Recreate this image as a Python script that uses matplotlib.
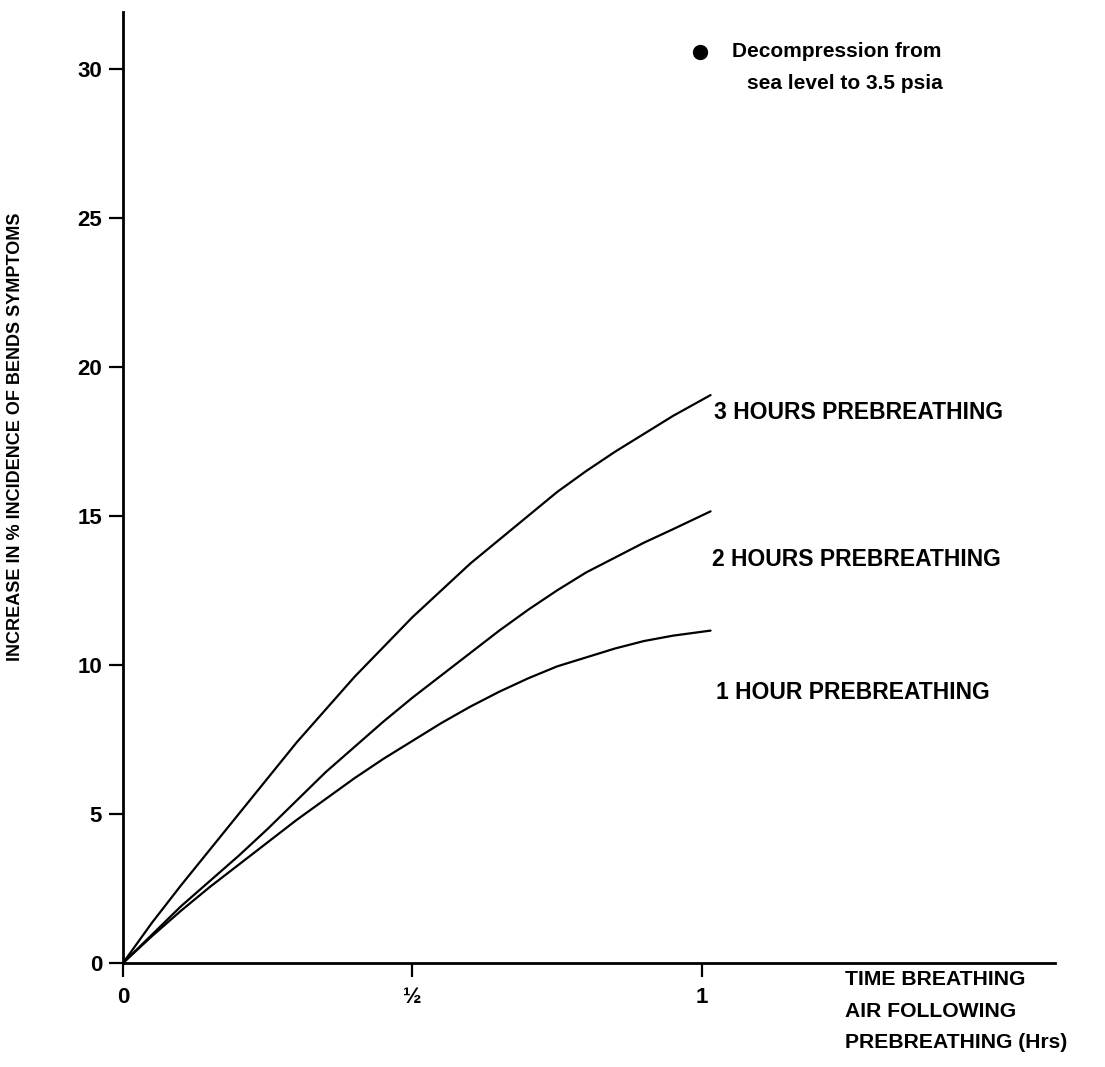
import matplotlib.pyplot as plt

# time breathing air following prebreathing (hrs)
hours = [0, 0.05, 0.1, 0.15, 0.2, 0.25, 0.3, 0.35, 0.4, 0.45, 0.5,
         0.55, 0.6, 0.65, 0.7, 0.75, 0.8, 0.85, 0.9, 0.95, 1.015]
three_hr = [0, 1.35, 2.6, 3.8, 5.0, 6.2, 7.4, 8.5, 9.6, 10.6, 11.6,
            12.5, 13.4, 14.2, 15.0, 15.8, 16.5, 17.15, 17.75, 18.35, 19.05]
two_hr = [0, 0.95, 1.9, 2.75, 3.6, 4.5, 5.45, 6.4, 7.25, 8.1, 8.9,
          9.65, 10.4, 11.15, 11.85, 12.5, 13.1, 13.6, 14.1, 14.55, 15.15]
one_hr = [0, 0.9, 1.75, 2.55, 3.3, 4.05, 4.8, 5.5, 6.2, 6.85, 7.45,
          8.05, 8.6, 9.1, 9.55, 9.95, 10.25, 10.55, 10.8, 10.98, 11.15]

curve_labels = ["3 HOURS PREBREATHING", "2 HOURS PREBREATHING", "1 HOUR PREBREATHING"]
x_ticks = [0, 0.5, 1]
x_ticklabels = ["0", "½", "1"]
y_ticks = [0, 5, 10, 15, 20, 25, 30]

plt.rcParams["font.family"] = ["Liberation Sans", "DejaVu Sans"]
plt.rcParams["font.weight"] = "bold"

W, H = 1105, 1067
fig = plt.figure(figsize=(W / 100, H / 100), dpi=100)
ax = fig.add_axes([123 / W, 1 - 963 / H, (1055 - 123) / W, (963 - 12) / H])

for ys in (three_hr, two_hr, one_hr):
    ax.plot(hours, ys, color="black", lw=1.6, solid_capstyle="round")

# curve labels to the right of each curve end
label_pos = [(1.021, 18.47), (1.018, 13.54), (1.024, 9.07)]
for (lx, ly), txt in zip(label_pos, curve_labels):
    ax.text(lx, ly, txt, fontsize=16.5, va="center", ha="left", clip_on=False)

# key in upper right
ax.plot([0.997], [30.57], "o", color="black", ms=10, clip_on=False)
ax.text(1.052, 30.57, "Decompression from", fontsize=15, va="center", ha="left")
ax.text(1.078, 29.49, "sea level to 3.5 psia", fontsize=15, va="center", ha="left")

ax.set_xlim(0, 1.61)
ax.set_ylim(0, 31.9)
ax.set_xticks(x_ticks)
ax.set_xticklabels(x_ticklabels)
ax.set_yticks(y_ticks)
ax.tick_params(axis="both", labelsize=16, width=1.6, length=10, direction="out")
ax.tick_params(axis="x", pad=7)
ax.tick_params(axis="y", pad=5)

for side in ("top", "right"):
    ax.spines[side].set_visible(False)
for side in ("left", "bottom"):
    ax.spines[side].set_linewidth(2.0)

fig.text(16 / W, 1 - 437 / H, "INCREASE IN % INCIDENCE OF BENDS SYMPTOMS",
         rotation=90, fontsize=13, ha="center", va="center")
fig.text(845 / W, 1 - 970 / H, "TIME BREATHING\nAIR FOLLOWING\nPREBREATHING (Hrs)",
         fontsize=15.2, ha="left", va="top", linespacing=1.85)

fig.savefig("out.png", dpi=100)
